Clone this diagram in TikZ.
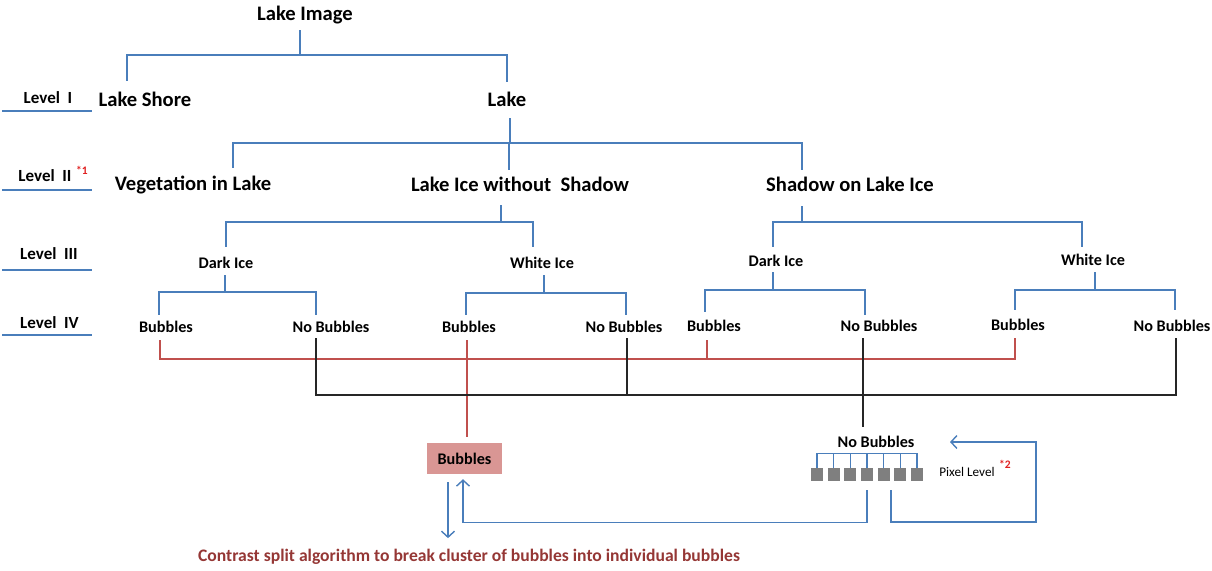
\documentclass[tikz,border=0pt]{standalone}
\usepackage{fontspec}
\setmainfont{Carlito}
\usetikzlibrary{arrows.meta}
\definecolor{lineblue}{HTML}{4A7EBB}
\definecolor{linered}{HTML}{C0504D}
\definecolor{lineblack}{HTML}{262626}
\definecolor{captionred}{HTML}{953735}
\definecolor{boxred}{HTML}{D99694}
\definecolor{pixgray}{HTML}{7F7F7F}
\definecolor{starred}{HTML}{E02020}
\begin{document}
\begin{tikzpicture}[x=1pt,y=-1pt,
  big/.style={font=\fontsize{20.6}{24}\selectfont\bfseries, inner sep=0pt},
  med/.style={font=\fontsize{16.2}{19}\selectfont\bfseries, inner sep=0pt},
  lvl/.style={font=\fontsize{17}{20}\selectfont\bfseries, inner sep=0pt},
  star/.style={font=\fontsize{11.5}{13}\selectfont\bfseries, text=starred, inner sep=0pt},
  bline/.style={draw=lineblue, line width=1.4pt},
  thinb/.style={draw=lineblue, line width=1.1pt},
  rline/.style={draw=linered, line width=1.4pt},
  kline/.style={draw=lineblack, line width=1.4pt},
  arr/.style={draw=lineblue, line width=1.4pt, -{Straight Barb[length=6pt,width=13pt,line width=1.4pt]}},
  pix/.style={fill=pixgray, minimum width=12pt, minimum height=13pt, inner sep=0pt},
]
\useasboundingbox (0,0) rectangle (1212,570);

% level labels
\node[lvl] (l1) at (48,98) {Level\ \ I};
\node[lvl] (l2) at (45,176) {Level\ \ II};
\node[star, anchor=west] (l2s) at (76,170) {*1};
\node[lvl] (l3) at (49,254) {Level\ \ III};
\node[lvl] (l4) at (49.5,323) {Level\ \ IV};
\draw[bline] (2,111) coordinate (u1a) -- (92,111) coordinate (u1b);
\draw[bline] (2,190) coordinate (u2a) -- (92,190) coordinate (u2b);
\draw[bline] (2,270) coordinate (u3a) -- (92,270) coordinate (u3b);
\draw[bline] (2,335) coordinate (u4a) -- (92,335) coordinate (u4b);

% tree nodes
\node[big] (limg) at (305,15) {Lake Image};
\node[big] (shore) at (145,99) {Lake Shore};
\node[big] (lake) at (507,99) {Lake};
\node[big] (veg) at (193,185) {Vegetation in Lake};
\node[big] (ice) at (520,184) {Lake Ice without\ \ Shadow};
\node[big] (shad) at (850,184) {Shadow on Lake Ice};

\node[med] (darkL) at (226,263) {Dark Ice};
\node[med] (whiteL) at (542,263) {White Ice};
\node[med] (darkR) at (776,261) {Dark Ice};
\node[med] (whiteR) at (1093,260) {White Ice};

\node[med] (b1) at (166,327) {Bubbles};
\node[med] (nb1) at (331,327) {No Bubbles};
\node[med] (b2) at (469,327) {Bubbles};
\node[med] (nb2) at (624,327) {No Bubbles};
\node[med] (b3) at (714,326) {Bubbles};
\node[med] (nb3) at (879,326) {No Bubbles};
\node[med] (b4) at (1018,325) {Bubbles};
\node[med] (nb4) at (1172,326) {No Bubbles};

% ports
\coordinate (limgB) at (300,30);
\coordinate (shoreT) at (127,81);
\coordinate (lakeT) at (507,82);
\coordinate (lakeB) at (510,118);
\coordinate (vegT) at (233,168);
\coordinate (iceT) at (509,170);
\coordinate (shadT) at (802,170);
\coordinate (iceB) at (501,205);
\coordinate (darkLT) at (226,247);
\coordinate (whiteLT) at (533,247);
\coordinate (shadB) at (802,206);
\coordinate (darkRT) at (773,247);
\coordinate (whiteRT) at (1082,247);
\coordinate (darkLB) at (225,275);
\coordinate (b1T) at (159,315);
\coordinate (nb1T) at (316,315);
\coordinate (whiteLB) at (544,275);
\coordinate (b2T) at (466,315);
\coordinate (nb2T) at (626,315);
\coordinate (darkRB) at (773,272);
\coordinate (b3T) at (705,312);
\coordinate (nb3T) at (865,315);
\coordinate (whiteRB) at (1095,272);
\coordinate (b4T) at (1015,310);
\coordinate (nb4T) at (1175,310);

\draw[bline] (limgB) -- ++(0,25) -| (shoreT);
\draw[bline] (limgB) -- ++(0,25) -| (lakeT);
\draw[bline] (lakeB) -- ++(0,25) -| (vegT);
\draw[bline] (lakeB) -- ++(0,25) -| (iceT);
\draw[bline] (lakeB) -- ++(0,25) -| (shadT);
\draw[bline] (iceB) -- ++(0,17) -| (darkLT);
\draw[bline] (iceB) -- ++(0,17) -| (whiteLT);
\draw[bline] (shadB) -- ++(0,16) -| (darkRT);
\draw[bline] (shadB) -- ++(0,16) -| (whiteRT);
\draw[bline] (darkLB) -- ++(0,17) -| (b1T);
\draw[bline] (darkLB) -- ++(0,17) -| (nb1T);
\draw[bline] (whiteLB) -- ++(0,18) -| (b2T);
\draw[bline] (whiteLB) -- ++(0,18) -| (nb2T);
\draw[bline] (darkRB) -- ++(0,18) -| (b3T);
\draw[bline] (darkRB) -- ++(0,18) -| (nb3T);
\draw[bline] (whiteRB) -- ++(0,18) -| (b4T);
\draw[bline] (whiteRB) -- ++(0,18) -| (nb4T);

% bottom part nodes
\node[med, fill=boxred, minimum width=75pt, minimum height=31pt] (bubbox) at (464.5,458.5) {Bubbles};
\node[med] (nobub) at (876,442) {No Bubbles};
\node[font=\fontsize{17.6}{21}\selectfont\bfseries, text=captionred, inner sep=0pt] (caption) at (469,557) {Contrast split algorithm to break cluster of bubbles into individual bubbles};
\foreach \i/\x in {1/817,2/833.7,3/850.3,4/867,5/883.7,6/900.3,7/917} {
  \node[pix] (px\i) at (\x,474.5) {};
}
\node[font=\fontsize{13.2}{16}\selectfont, inner sep=0pt] (pixlvl) at (967,472) {Pixel Level};
\node[star, anchor=west] (pixstar) at (999,464) {*2};

% red connectors
\coordinate (b1B) at (160,340);
\coordinate (b2B) at (467,340);
\coordinate (b3B) at (707,340);
\coordinate (b4B) at (1015,338);
\draw[rline] (b1B) -- ++(0,19) -| (b4B);
\draw[rline] (b3B) -- ++(0,19);
\draw[rline, shorten >=6pt] (b2B) -- (b2B |- bubbox.north);

% black connectors
\coordinate (nb1B) at (316,338);
\coordinate (nb2B) at (627,338);
\coordinate (nb3B) at (863,338);
\coordinate (nb4B) at (1176,338);
\draw[kline] (nb1B) -- ++(0,57) -| (nb4B);
\draw[kline] (nb2B) -- ++(0,57);
\draw[kline, shorten >=9pt] (nb3B) -- (nb3B |- nobub.north);

% comb
\draw[thinb] (px1.north) -- ++(0,-14) -| (px7.north);
\foreach \i in {2,...,6} { \draw[thinb] (px\i.north) -- ++(0,-14); }

% arrows
\coordinate (dA) at (448,482);
\draw[arr, shorten >=11pt] (dA) -- (dA |- caption.north);
\draw[arr, shorten <=9pt, shorten >=5pt] (px4.south) -- ++(0,41) -| ([xshift=-1.5pt]bubbox.south);
\coordinate (loopS) at (891,490);
\coordinate (loopE) at (950,442);
\draw[arr] (loopS) |- (1036,522) |- (loopE);
\end{tikzpicture}
\end{document}
